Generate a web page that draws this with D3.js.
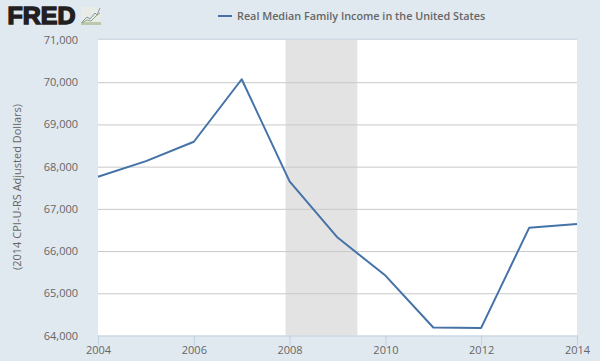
<!DOCTYPE html>
<html>
<head>
<meta charset="utf-8">
<script src="https://cdnjs.cloudflare.com/ajax/libs/d3/7.8.5/d3.min.js"></script>
<style>
  html, body { margin: 0; padding: 0; background: #e1e9f0; }
  svg { display: block; }
  text { font-family: "Open Sans", sans-serif; fill: #666; }
</style>
</head>
<body>
<div id="chart"></div>
<script>
// data
const years = [2004, 2005, 2006, 2007, 2008, 2009, 2010, 2011, 2012, 2013, 2014];
const income = [67760, 68130, 68590, 70070, 67650, 66320, 65420, 64190, 64180, 66550, 66640];
const yTicks = [64000, 65000, 66000, 67000, 68000, 69000, 70000, 71000];
const xTicks = [2004, 2006, 2008, 2010, 2012, 2014];
const recession = ['2007-12-01', '2009-06-01'];
const seriesName = 'Real Median Family Income in the United States';
const yTitle = '(2014 CPI-U-RS Adjusted Dollars)';

const W = 600, H = 361;
const plot = { left: 98, right: 577, top: 40, bottom: 335.5 };

const svg = d3.select('#chart').append('svg')
    .attr('width', W)
    .attr('height', H);

const x = d3.scaleTime()
    .domain([new Date(2004, 0, 1), new Date(2014, 0, 1)])
    .range([plot.left, plot.right]);
const y = d3.scaleLinear()
    .domain([64000, 71000])
    .range([plot.bottom, plot.top]);

// plot background
svg.append('rect')
    .attr('x', plot.left)
    .attr('y', plot.top - 1.5)
    .attr('width', plot.right - plot.left)
    .attr('height', 1.5)
    .attr('fill', '#d3d9e4');
svg.append('rect')
    .attr('x', plot.left)
    .attr('y', plot.top)
    .attr('width', plot.right - plot.left)
    .attr('height', plot.bottom - plot.top)
    .attr('fill', '#fff');

// recession band
const parse = d3.timeParse('%Y-%m-%d');
svg.append('rect')
    .attr('x', x(parse(recession[0])))
    .attr('y', plot.top)
    .attr('width', x(parse(recession[1])) - x(parse(recession[0])))
    .attr('height', plot.bottom - plot.top)
    .attr('fill', '#e3e3e3');

// y axis, grid lines are the ticks
const yAxis = svg.append('g')
    .attr('transform', `translate(${plot.left},0)`)
    .call(d3.axisLeft(y)
      .tickValues(yTicks)
      .tickFormat(d3.format(','))
      .tickSize(-(plot.right - plot.left))
      .tickPadding(20));
yAxis.select('.domain').remove();
yAxis.selectAll('line')
    .attr('stroke', '#c9c9c9')
    .attr('stroke-width', 1)
    .filter(d => d === 64000 || d === 71000).remove();
yAxis.selectAll('text')
    .attr('font-size', 11)
    .attr('dy', '0.32em')
    .style('font-family', '"Open Sans", sans-serif');

// x axis
const xAxis = svg.append('g')
    .attr('transform', `translate(0,${plot.bottom})`)
    .call(d3.axisBottom(x)
      .tickValues(xTicks.map(d => new Date(d, 0, 1)))
      .tickFormat(d3.timeFormat('%Y'))
      .tickSize(10)
      .tickPadding(1));
xAxis.select('.domain')
    .attr('stroke', '#c0d0e0')
    .attr('d', `M${plot.left},0.5H${plot.right}`);
xAxis.selectAll('line').attr('stroke', '#c0d0e0');
xAxis.selectAll('text')
    .attr('font-size', 11)
    .style('font-family', '"Open Sans", sans-serif');

// series line
const line = d3.line()
    .x((d, i) => x(new Date(years[i], 0, 1)))
    .y(d => y(d));
svg.append('path')
    .datum(income)
    .attr('d', line)
    .attr('fill', 'none')
    .attr('stroke', '#4572a7')
    .attr('stroke-width', 2)
    .attr('stroke-linejoin', 'round');

// legend
svg.append('line')
    .attr('x1', 218).attr('x2', 232)
    .attr('y1', 16).attr('y2', 16)
    .attr('stroke', '#4572a7')
    .attr('stroke-width', 2);
svg.append('text')
    .attr('x', 237)
    .attr('y', 20)
    .attr('font-size', 10.8)
    .attr('font-weight', 600)
    .text(seriesName);

// y title
svg.append('text')
    .attr('transform', 'translate(21,187) rotate(-90)')
    .attr('text-anchor', 'middle')
    .attr('font-size', 11)
    .text(yTitle);

// FRED logo
svg.append('text')
    .attr('x', 7.5)
    .attr('y', 24)
    .attr('font-size', 23)
    .attr('font-weight', 700)
    .attr('textLength', 68)
    .attr('lengthAdjust', 'spacingAndGlyphs')
    .style('font-family', '"Liberation Sans", sans-serif')
    .style('fill', '#231f20')
    .attr('stroke', '#231f20')
    .attr('stroke-width', 1.4)
    .text('FRED');

// logo icon
const icon = svg.append('g').attr('transform', 'translate(81,7)');
icon.append('rect')
    .attr('width', 20).attr('height', 18)
    .attr('fill', '#e9ece6');
icon.append('rect')
    .attr('y', 15).attr('width', 20).attr('height', 3)
    .attr('fill', '#bcc8ae');
icon.append('path')
    .attr('d', 'M1,15L6,10L9,12L14,6L16,8L19,1')
    .attr('fill', 'none').attr('stroke', '#7f97ad').attr('stroke-width', 1);
icon.append('path')
    .attr('d', 'M1,16L6,13L10,14L15,9L19,6')
    .attr('fill', 'none').attr('stroke', '#8fa87a').attr('stroke-width', 1);
</script>
</body>
</html>
